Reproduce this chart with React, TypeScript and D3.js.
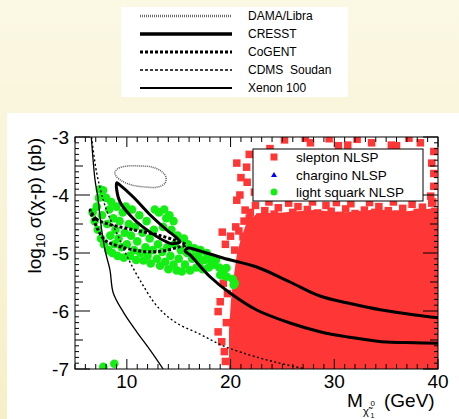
import React from "react";
import * as d3 from "d3";

// experiment limit curves, x = neutralino mass (GeV), y = log10 sigma (pb)
const xenonX = [6.57, 6.93, 7.19, 7.57, 7.96, 8.37, 8.69, 9.66, 10.95, 12.23, 13.5];
const xenonY = [-3, -3.74, -4.03, -4.6, -5.0, -5.29, -5.69, -6.02, -6.36, -6.67, -7];

const cdmsX = [6.59, 7.09, 7.73, 8.21, 9.18, 10.11, 11.27, 12.88, 14.64, 17.05, 19.27, 21.87, 24.28, 26.7, 27.18];
const cdmsY = [-3, -3.62, -4.09, -4.34, -4.72, -5.09, -5.47, -5.91, -6.19, -6.4, -6.6, -6.76, -6.88, -6.98, -7];

const cogentX = [6.45, 7.02, 8.18, 9.82, 11.43, 13.0, 14.64, 15.7, 14.93, 13.36, 11.43, 9.15, 7.89, 7.22, 6.64];
const cogentY = [-4.26, -4.41, -4.5, -4.57, -4.63, -4.69, -4.78, -4.86, -4.9, -4.97, -4.97, -4.88, -4.78, -4.6, -4.36];

const cresstSmallX = [9.02, 9.34, 10.59, 12.23, 13.84, 14.81, 15.12, 14.35, 13.84, 12.23, 10.59, 9.34, 9.02];
const cresstSmallY = [-3.79, -3.83, -4.03, -4.34, -4.6, -4.74, -4.81, -4.84, -4.81, -4.64, -4.4, -4.12, -3.91];

const cresstBigX = [40, 37.78, 34.57, 31.32, 28.62, 25.73, 22.52, 19.27, 16.73, 15.9, 15.61, 16.09, 18.02, 19.95, 22.52, 25.73, 28.62, 31.32, 34.57, 37.78, 40];
const cresstBigY = [-6.116, -6.069, -5.983, -5.862, -5.741, -5.5, -5.241, -5.086, -4.948, -4.914, -4.966, -5.034, -5.409, -5.69, -5.983, -6.207, -6.357, -6.448, -6.529, -6.547, -6.557];

const damaX = [8.86, 9.24, 10.11, 11.27, 12.42, 13.29, 13.77, 13.68, 13.0, 11.75, 10.5, 9.53, 8.95];
const damaY = [-3.603, -3.534, -3.5, -3.5, -3.517, -3.586, -3.69, -3.793, -3.862, -3.862, -3.828, -3.759, -3.672];

// model points
const lightSquarkPts = [
  [6.7, -4.3], [6.9, -4.45], [7.1, -4.2], [7.2, -4.6], [7.3, -4.05], [7.4, -3.9], [7.5, -4.75], [7.6, -4.35], [7.8, -4.85], [7.7, -3.92],
  [8.0, -4.05], [8.1, -4.5], [8.2, -4.95], [8.3, -4.25], [8.4, -4.7], [8.5, -4.12], [8.6, -5.0], [8.7, -4.4], [8.8, -4.85], [8.9, -4.6],
  [9.0, -4.2], [9.1, -5.05], [9.2, -4.75], [9.3, -4.45], [9.5, -4.9], [9.6, -4.3], [9.7, -5.08], [9.8, -4.65], [9.9, -4.2], [10.0, -4.85],
  [10.2, -4.5], [10.3, -5.05], [10.4, -4.7], [10.5, -4.25], [10.7, -4.95], [10.8, -4.55], [10.9, -5.12], [11.0, -4.8], [11.2, -4.35], [11.3, -5.0],
  [11.5, -4.65], [11.6, -5.13], [11.8, -4.9], [11.9, -4.45], [12.0, -5.05], [12.2, -4.75], [12.3, -5.18], [12.5, -4.95], [12.6, -4.6], [12.7, -4.25],
  [12.9, -5.1], [13.0, -4.85], [13.1, -4.3], [13.2, -5.22], [13.4, -4.98], [13.5, -4.55], [13.7, -5.15], [13.8, -4.4], [13.9, -4.9], [14.0, -5.28],
  [14.2, -5.05], [14.3, -4.6], [14.5, -5.2], [14.6, -4.85], [14.8, -5.3], [14.9, -4.7], [15.0, -5.1], [15.2, -4.95], [15.3, -5.32], [15.5, -4.75],
  [15.6, -5.2], [15.8, -5.0], [15.9, -4.85], [16.1, -5.3], [16.3, -5.1], [16.5, -4.92], [16.7, -5.25], [16.9, -5.05], [17.1, -4.95], [17.3, -5.28],
  [17.5, -5.12], [17.7, -5.0], [17.9, -5.25], [18.1, -5.08], [18.3, -5.2], [18.6, -5.12], [18.9, -5.25], [19.4, -5.28], [19.5, -5.4], [20.2, -5.45], [20.3, -5.55],
  [13.6, -4.25], [14.1, -4.35], [14.5, -4.45], [16.4, -5.06], [17.05, -5.15], [18.0, -5.12], [19.0, -5.38], [19.6, -5.26], [19.65, -5.41], [20.4, -5.52],
  [7.73, -6.96], [8.79, -6.91],
];

const sleptonDenseRegion = [
  [21.0, -4.75], [21.6, -4.45], [22.6, -4.32], [25, -4.3], [28, -4.26], [31, -4.3], [34, -4.25], [37, -4.28], [40, -4.22],
  [40, -7], [19.85, -7], [19.85, -6.33], [20.04, -5.81], [20.33, -5.38], [20.6, -5.03],
];

const sleptonPts = [
  [27.2, -3.02], [27.7, -3.1], [30.4, -3.15], [31.3, -3.14], [33.6, -3.1], [35.5, -3.14], [36.0, -3.15], [38.3, -3.1],
  [39.4, -3.45], [39.6, -3.63], [39.6, -3.85], [39.3, -4.02], [20.6, -3.45], [21.55, -3.52], [21.6, -3.78], [20.6, -4.09], [21.4, -4.26],
  [19.2, -4.64], [20.0, -4.71], [21.2, -4.72], [20.5, -4.55], [21.8, -4.4], [19.5, -4.85], [20.4, -4.95],
  [19.0, -5.84], [18.8, -6.01], [18.8, -6.36], [19.15, -6.53], [19.5, -6.87], [19.3, -5.52], [19.7, -5.7], [19.6, -6.2], [19.4, -6.7], [19.3, -5.3],
  [21.9, -4.3], [22.4, -4.18], [22.8, -4.38], [23.3, -4.27], [23.7, -4.12], [24.2, -4.33], [24.6, -4.22], [25.1, -4.4], [25.6, -4.14], [26.0, -4.3],
  [26.5, -4.2], [27.0, -4.36], [27.4, -4.25], [27.9, -4.12], [28.4, -4.31], [28.9, -4.4], [29.2, -4.18], [29.7, -4.28], [30.2, -4.13], [30.6, -4.35],
  [31.1, -4.24], [31.6, -4.15], [32.0, -4.32], [32.5, -4.4], [32.9, -4.26], [33.4, -4.13], [33.9, -4.3], [34.3, -4.2], [34.8, -4.36], [35.2, -4.27],
  [35.7, -4.12], [36.1, -4.33], [36.6, -4.23], [37.1, -4.4], [37.5, -4.16], [38.0, -4.3], [38.5, -4.21], [39.0, -4.37], [39.4, -4.14], [39.7, -4.28],
  [21.3, -4.45], [20.8, -4.62], [22.2, -4.55], [23.8, -4.5], [26.7, -4.5], [30.0, -4.5], [35.5, -4.48], [38.6, -4.5],
  [20.9, -4.0], [22.3, -3.95], [21.0, -3.7], [22.6, -3.6], [21.8, -3.3], [23.8, -3.2], [25.2, -3.05], [29.5, -3.03], [32.2, -3.04],
  [37.2, -3.02], [39.6, -3.25], [39.5, -4.12],
];

const xTickLabels = [10, 20, 30, 40];
const yTickLabels = [-3, -4, -5, -6, -7];

const expLegend = [
  { name: "DAMA/Libra", stroke: "#666", width: 2.5, dash: "1,1" },
  { name: "CRESST", stroke: "#000", width: 3.5, dash: null },
  { name: "CoGENT", stroke: "#000", width: 3, dash: "3,2" },
  { name: "CDMS  Soudan", stroke: "#000", width: 1.5, dash: "3,2" },
  { name: "Xenon 100", stroke: "#000", width: 2, dash: null },
];

const FONT = "'Liberation Sans', Arial, sans-serif";
const RED = "#fe3636";
const GREEN = "#14ee14";

export default function App() {
  const x = d3.scaleLinear().domain([5, 40]).range([75, 438]);
  const y = d3.scaleLinear().domain([-7, -3]).range([369, 137]);
  const [x0, x1] = x.range();
  const [y0, y1] = y.range();

  const toPts = (xs: number[], ys: number[]) => xs.map((v, i) => [x(v), y(ys[i])] as [number, number]);
  const openLine = d3.line().curve(d3.curveCatmullRom.alpha(0.5));
  const closedLine = d3.line().curve(d3.curveCatmullRomClosed.alpha(0.5));
  const poly = d3.line().curve(d3.curveLinearClosed);

  const xMinor = d3.range(5, 41, 1);
  const yMinor = d3.range(0, 41).map((i) => -7 + i * 0.1);

  const xTickLen = (v: number) => (v % 10 === 0 ? 10 : 5);
  const yTickLen = (v: number) => {
    const r = Math.round(v * 10);
    if (r % 10 === 0) return 15;
    if (r % 5 === 0) return 8;
    return 4;
  };

  return (
    <svg width={459} height={419} style={{ position: "absolute", left: 0, top: 0 }} fontFamily={FONT}>
      <defs>
        <linearGradient id="bg" x1="0" y1="0" x2="0" y2="1">
          <stop offset="0" stopColor="#fbf8e4" />
          <stop offset="1" stopColor="#f6efc8" />
        </linearGradient>
        <clipPath id="plotClip">
          <rect x={x0} y={y1} width={x1 - x0} height={y0 - y1} />
        </clipPath>
      </defs>
      <rect width={459} height={419} fill="url(#bg)" />

      {/* experiment legend */}
      <rect x={121} y={7} width={227} height={90} fill="#fff" />
      {expLegend.map((d, i) => (
        <g key={d.name}>
          <line x1={140} x2={232} y1={16 + i * 18} y2={16 + i * 18} stroke={d.stroke} strokeWidth={d.width} strokeDasharray={d.dash || undefined} />
          <text x={248} y={20 + i * 18} fontSize={12} style={{ whiteSpace: "pre" }}>{d.name}</text>
        </g>
      ))}

      {/* plot panel */}
      <rect x={7} y={113} width={452} height={306} fill="#fff" />

      <g clipPath="url(#plotClip)">
        <path d={poly(sleptonDenseRegion.map(([a, b]) => [x(a), y(b)]) as [number, number][]) || ""} fill={RED} />
        {sleptonPts.map(([a, b], i) => (
          <rect key={"s" + i} x={x(a) - 3.75} y={y(b) - 3.75} width={7.5} height={7.5} fill={RED} />
        ))}
        {lightSquarkPts.map(([a, b], i) => (
          <circle key={"g" + i} cx={x(a)} cy={y(b)} r={4.3} fill={GREEN} />
        ))}

        <path d={closedLine(toPts(damaX, damaY)) || ""} fill="none" stroke="#555" strokeWidth={1.5} strokeDasharray="1,1" />
        <path d={openLine(toPts(xenonX, xenonY)) || ""} fill="none" stroke="#000" strokeWidth={1.3} />
        <path d={openLine(toPts(cdmsX, cdmsY)) || ""} fill="none" stroke="#000" strokeWidth={1.4} strokeDasharray="2,2.5" />
        <path d={closedLine(toPts(cogentX, cogentY)) || ""} fill="none" stroke="#000" strokeWidth={3} strokeDasharray="3,2" />
        <path d={closedLine(toPts(cresstSmallX, cresstSmallY)) || ""} fill="none" stroke="#000" strokeWidth={3} />
        <path d={openLine(toPts(cresstBigX, cresstBigY)) || ""} fill="none" stroke="#000" strokeWidth={3} />
      </g>

      {/* frame and ticks */}
      <rect x={x0} y={y1} width={x1 - x0} height={y0 - y1} fill="none" stroke="#000" strokeWidth={1} />
      {xMinor.map((v) => (
        <g key={"xt" + v} stroke="#000" strokeWidth={1}>
          <line x1={x(v)} x2={x(v)} y1={y0} y2={y0 - xTickLen(v)} />
          <line x1={x(v)} x2={x(v)} y1={y1} y2={y1 + xTickLen(v)} />
        </g>
      ))}
      {yMinor.map((v, i) => (
        <g key={"yt" + i} stroke="#000" strokeWidth={1}>
          <line x1={x0} x2={x0 + yTickLen(v)} y1={y(v)} y2={y(v)} />
          <line x1={x1} x2={x1 - yTickLen(v)} y1={y(v)} y2={y(v)} />
        </g>
      ))}
      {xTickLabels.map((v) => (
        <text key={"xl" + v} x={x(v)} y={388} fontSize={19} textAnchor="middle">{v}</text>
      ))}
      {yTickLabels.map((v) => (
        <text key={"yl" + v} x={69} y={y(v) + 7} fontSize={19} textAnchor="end">{v}</text>
      ))}

      {/* axis titles */}
      <text x={347} y={407} fontSize={19}>M</text>
      <text x={363} y={415} fontSize={11}>χ̃</text>
      <text x={370.5} y={406} fontSize={8}>0</text>
      <text x={370.5} y={418} fontSize={7}>1</text>
      <text x={384} y={407} fontSize={19}>(GeV)</text>

      <text transform="rotate(-90)" x={-138} y={41} fontSize={19} textAnchor="end">
        log<tspan dy={4} fontSize={13}>10</tspan>
        <tspan dy={-4}> σ(χ-p) (pb)</tspan>
      </text>

      {/* model legend */}
      <rect x={253} y={149} width={170} height={52} fill="#fff" stroke="#000" strokeWidth={1} />
      <rect x={270.5} y={153.5} width={7} height={7} fill={RED} />
      <path d="M274,172 L277,177 L271,177 Z" fill="#0000ff" />
      <circle cx={274} cy={192} r={3.5} fill={GREEN} />
      <text x={296} y={162} fontSize={13.5}>slepton NLSP</text>
      <text x={296} y={180} fontSize={13.5}>chargino NLSP</text>
      <text x={296} y={197} fontSize={13.5}>light squark NLSP</text>
    </svg>
  );
}
